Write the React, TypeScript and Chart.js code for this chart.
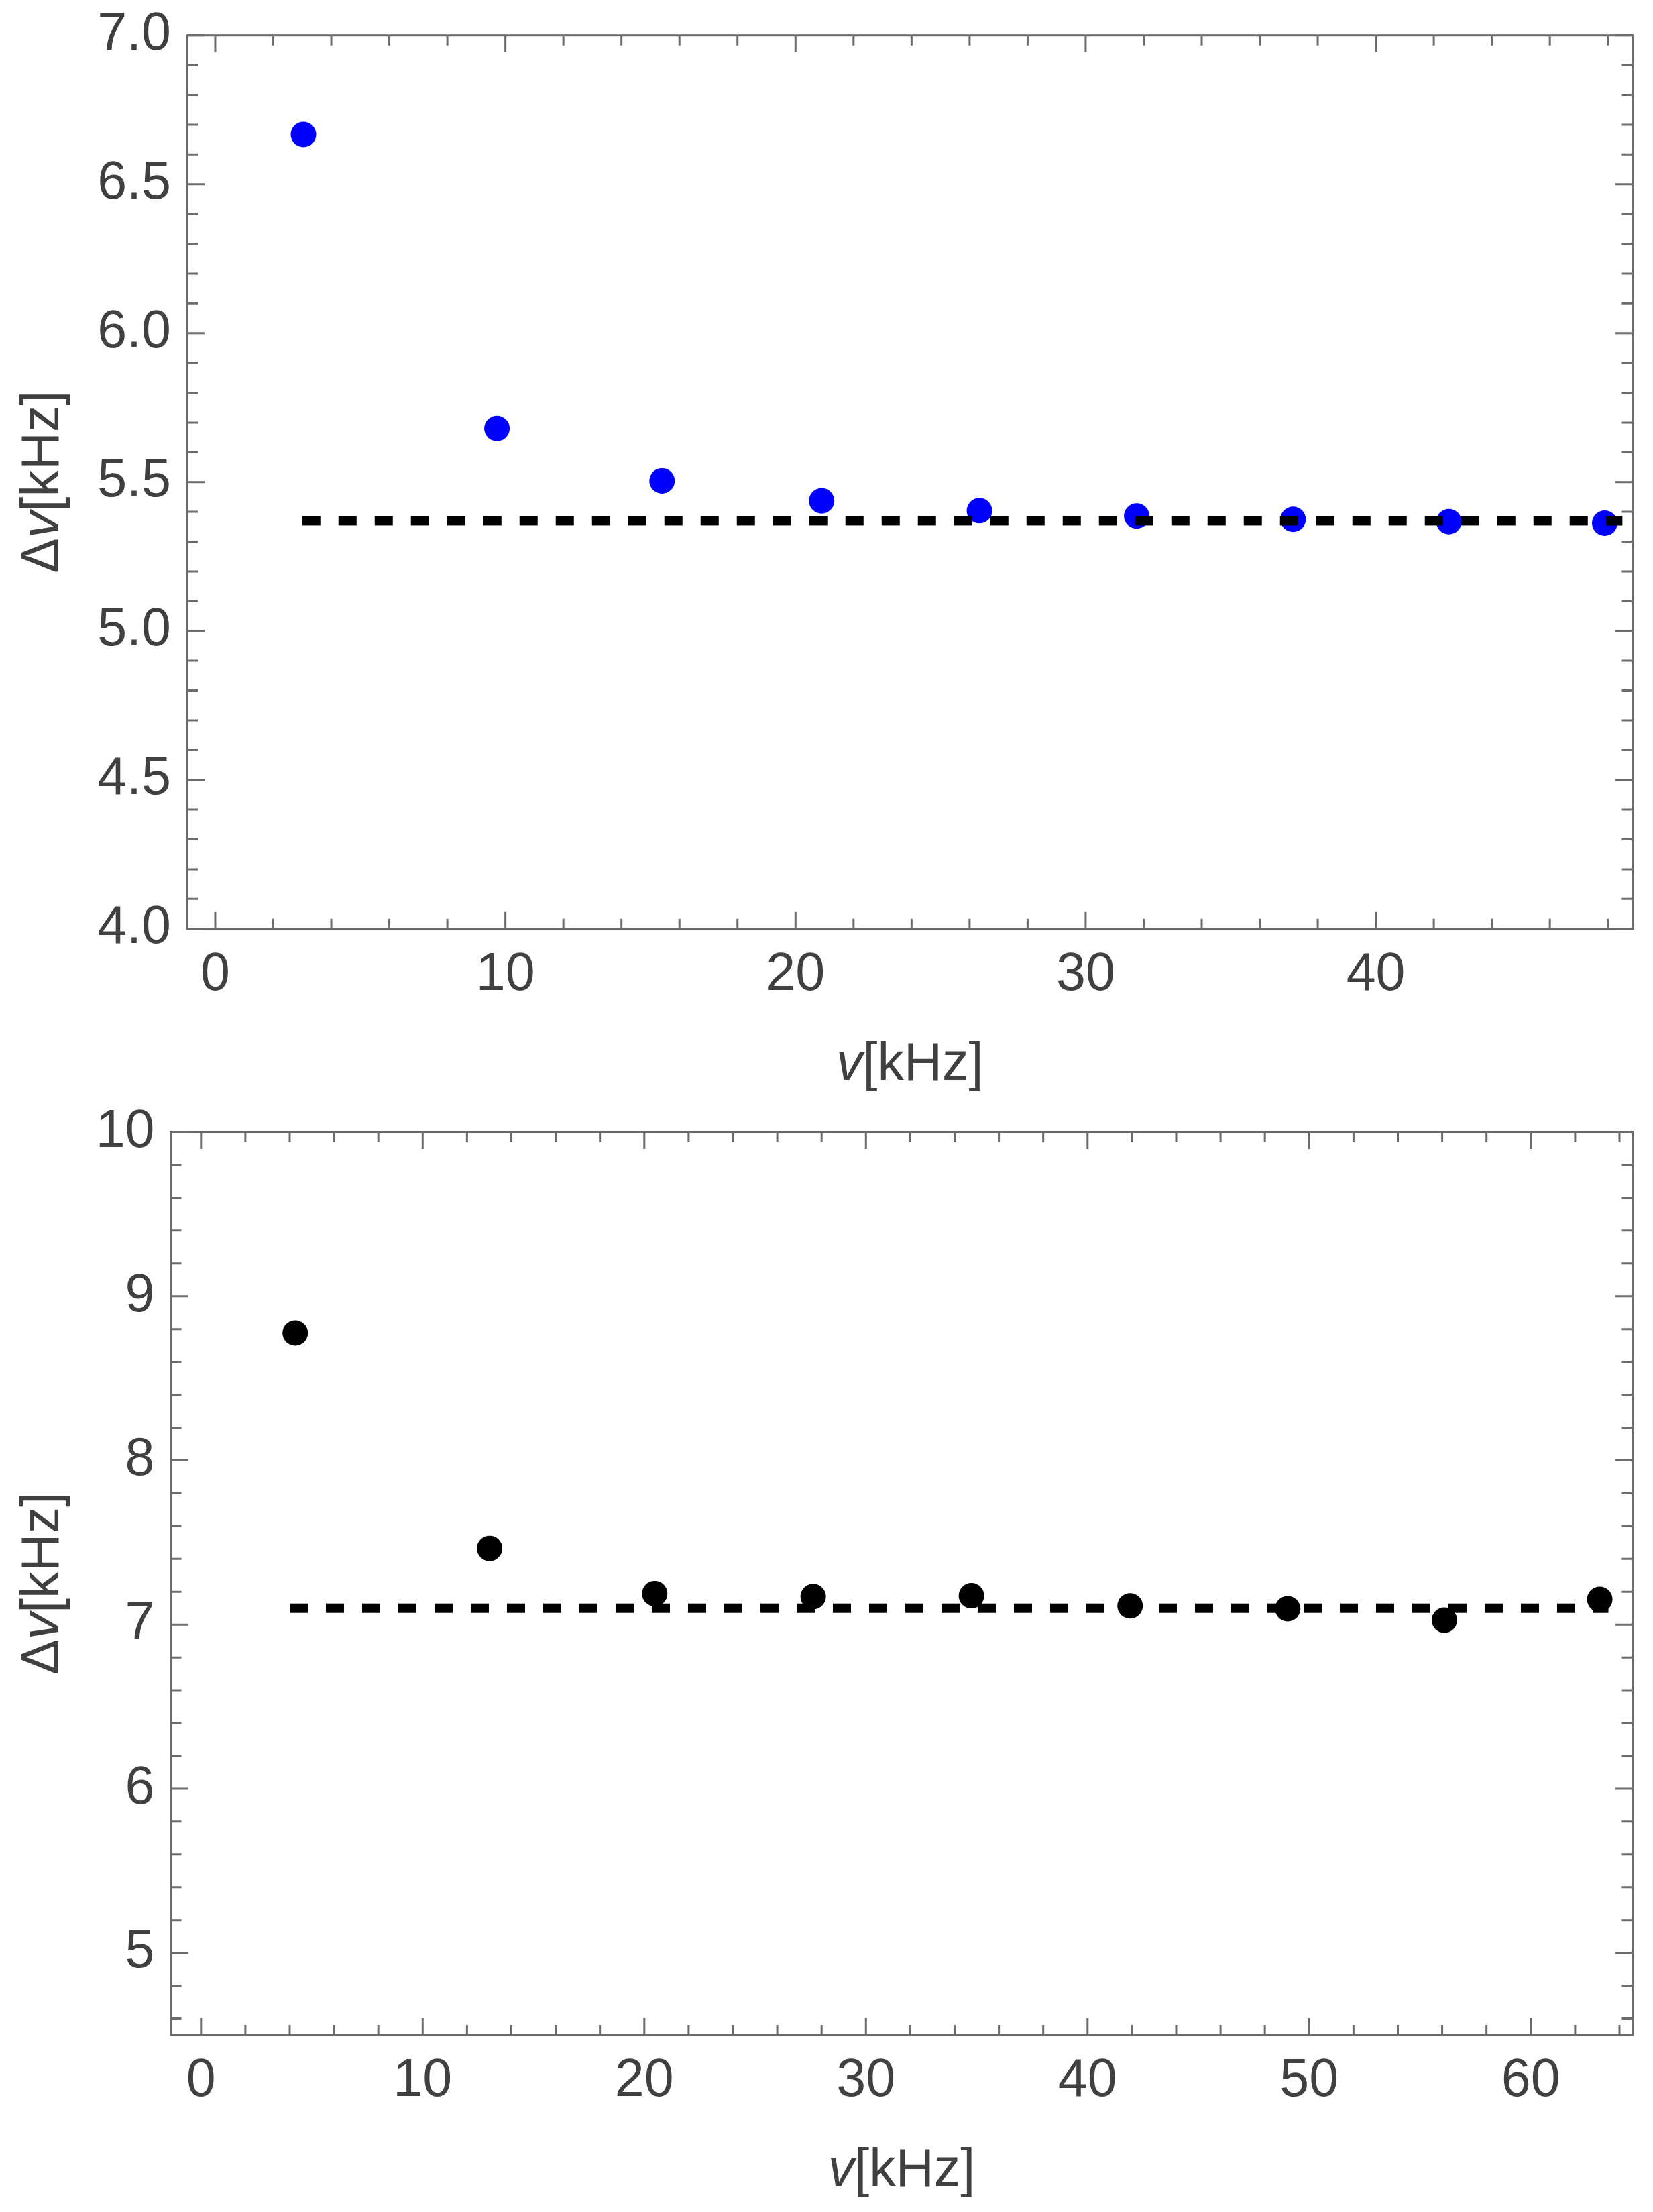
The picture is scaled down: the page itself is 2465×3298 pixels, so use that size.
import React, { useEffect, useRef } from 'react';
import { Chart, registerables } from 'chart.js';

Chart.register(...registerables);

// ---------- Top panel data ----------
const topFreq = [3.04, 9.71, 15.4, 20.9, 26.34, 31.76, 37.15, 42.52, 47.89];
const topWidth = [6.667, 5.68, 5.504, 5.437, 5.404, 5.386, 5.375, 5.367, 5.362];
const topFitX = [3.0, 48.5];
const topFitY = [5.37, 5.37];
const topXTicks = [0, 10, 20, 30, 40];
const topXMinor = [2, 4, 6, 8, 12, 14, 16, 18, 22, 24, 26, 28, 32, 34, 36, 38, 42, 44, 46, 48];
const topYTicks = [4.0, 4.5, 5.0, 5.5, 6.0, 6.5, 7.0];
const topYMinor = [4.1, 4.2, 4.3, 4.4, 4.6, 4.7, 4.8, 4.9, 5.1, 5.2, 5.3, 5.4, 5.6, 5.7, 5.8, 5.9, 6.1, 6.2, 6.3, 6.4, 6.6, 6.7, 6.8, 6.9];

// ---------- Bottom panel data ----------
const bottomFreq = [4.25, 13.02, 20.47, 27.62, 34.76, 41.92, 49.03, 56.1, 63.11];
const bottomWidth = [8.776, 7.464, 7.189, 7.171, 7.176, 7.114, 7.097, 7.027, 7.154];
const bottomFitX = [4.0, 63.5];
const bottomFitY = [7.1, 7.1];
const bottomXTicks = [0, 10, 20, 30, 40, 50, 60];
const bottomXMinor = [2, 4, 6, 8, 12, 14, 16, 18, 22, 24, 26, 28, 32, 34, 36, 38, 42, 44, 46, 48, 52, 54, 56, 58, 62, 64];
const bottomYTicks = [5, 6, 7, 8, 9, 10];
const bottomYMinor = [4.6, 4.8, 5.2, 5.4, 5.6, 5.8, 6.2, 6.4, 6.6, 6.8, 7.2, 7.4, 7.6, 7.8, 8.2, 8.4, 8.6, 8.8, 9.2, 9.4, 9.6, 9.8];

// ---------- Text ----------
const xTitleParts = [
  { text: 'v', italic: true },
  { text: '[kHz]', italic: false },
];
const yTitleParts = [
  { text: 'Δ', italic: false },
  { text: 'v', italic: true },
  { text: '[kHz]', italic: false },
];

const FONT = "'Liberation Sans', Arial, Helvetica, sans-serif";
const TEXT_COLOR = '#404040';
const FRAME_COLOR = '#6b6b6b';
const FONT_SIZE = 79;

type PanelSpec = {
  width: number;
  height: number;
  xMin: number;
  xMax: number;
  yMin: number;
  yMax: number;
  freq: number[];
  values: number[];
  fitX: number[];
  fitY: number[];
  xTicks: number[];
  xMinor: number[];
  yTicks: number[];
  yMinor: number[];
  yDecimals: number;
  pointColor: string;
  padTop: number;
  padRight: number;
  yAxisWidth: number;
  xAxisHeight: number;
};

function drawParts(ctx: CanvasRenderingContext2D, parts: { text: string; italic: boolean }[], cx: number, baseline: number) {
  const fontFor = (it: boolean) => `${it ? 'italic ' : ''}${FONT_SIZE}px ${FONT}`;
  let total = 0;
  const widths = parts.map((p) => {
    ctx.font = fontFor(p.italic);
    const w = ctx.measureText(p.text).width;
    total += w;
    return w;
  });
  let x = cx - total / 2;
  ctx.textBaseline = 'alphabetic';
  ctx.textAlign = 'left';
  ctx.fillStyle = TEXT_COLOR;
  parts.forEach((p, i) => {
    ctx.font = fontFor(p.italic);
    ctx.fillText(p.text, x, baseline);
    x += widths[i];
  });
}

const framePlugin = {
  id: 'mmaFrame',
  afterDraw(chart: any, _args: any, opts: any) {
    const { ctx, chartArea } = chart;
    const { left, right, top, bottom } = chartArea;
    const sx = chart.scales.x;
    const sy = chart.scales.y;
    ctx.save();
    ctx.strokeStyle = FRAME_COLOR;
    ctx.lineWidth = 3;
    ctx.lineCap = 'butt';
    ctx.strokeRect(left, top, right - left, bottom - top);
    ctx.beginPath();
    const xt = (vals: number[], len: number) => {
      vals.forEach((v) => {
        const px = sx.getPixelForValue(v);
        if (px < left || px > right) return;
        ctx.moveTo(px, bottom);
        ctx.lineTo(px, bottom - len);
        ctx.moveTo(px, top);
        ctx.lineTo(px, top + len);
      });
    };
    const yt = (vals: number[], len: number) => {
      vals.forEach((v) => {
        const py = sy.getPixelForValue(v);
        if (py < top - 0.5 || py > bottom + 0.5) return;
        ctx.moveTo(left, py);
        ctx.lineTo(left + len, py);
        ctx.moveTo(right, py);
        ctx.lineTo(right - len, py);
      });
    };
    xt(opts.xTicks, 25);
    xt(opts.xMinor, 15);
    yt(opts.yTicks, 26);
    yt(opts.yMinor, 16);
    ctx.stroke();

    // axis titles
    drawParts(ctx, xTitleParts, (left + right) / 2, bottom + 225);
    ctx.save();
    ctx.translate(87, (top + bottom) / 2);
    ctx.rotate(-Math.PI / 2);
    drawParts(ctx, yTitleParts, 0, 0);
    ctx.restore();
    ctx.restore();
  },
};

function Panel({ spec }: { spec: PanelSpec }) {
  const ref = useRef<HTMLCanvasElement>(null);
  useEffect(() => {
    if (!ref.current) return;
    const chart = new Chart(ref.current, {
      type: 'scatter',
      data: {
        datasets: [
          {
            label: 'fit',
            data: spec.fitX.map((x, i) => ({ x, y: spec.fitY[i] })),
            showLine: true,
            pointRadius: 0,
            borderColor: '#000000',
            borderWidth: 14,
            borderDash: [27, 27],
            borderCapStyle: 'butt',
            fill: false,
            order: 0,
          } as any,
          {
            label: 'data',
            data: spec.freq.map((x, i) => ({ x, y: spec.values[i] })),
            pointRadius: 19,
            pointHoverRadius: 19,
            pointBackgroundColor: spec.pointColor,
            pointBorderWidth: 0,
            backgroundColor: spec.pointColor,
            borderWidth: 0,
            order: 1,
          } as any,
        ],
      },
      options: {
        animation: false,
        responsive: false,
        devicePixelRatio: 1,
        layout: { padding: { top: spec.padTop, right: spec.padRight, bottom: 0, left: 0 } },
        plugins: {
          legend: { display: false },
          tooltip: { enabled: false },
          mmaFrame: { xTicks: spec.xTicks, xMinor: spec.xMinor, yTicks: spec.yTicks, yMinor: spec.yMinor },
        } as any,
        scales: {
          x: {
            type: 'linear',
            min: spec.xMin,
            max: spec.xMax,
            afterBuildTicks: (s: any) => {
              s.ticks = spec.xTicks.map((v) => ({ value: v }));
            },
            afterFit: (s: any) => {
              s.height = spec.xAxisHeight;
            },
            grid: { display: false, drawTicks: false },
            border: { display: false },
            ticks: {
              autoSkip: false,
              maxRotation: 0,
              padding: 22,
              color: TEXT_COLOR,
              font: { family: FONT, size: FONT_SIZE },
              callback: (v: any) => String(v),
            },
          },
          y: {
            type: 'linear',
            min: spec.yMin,
            max: spec.yMax,
            afterBuildTicks: (s: any) => {
              s.ticks = spec.yTicks.map((v) => ({ value: v }));
            },
            afterFit: (s: any) => {
              s.width = spec.yAxisWidth;
              s.paddingTop = 0;
              s.paddingBottom = 0;
            },
            grid: { display: false, drawTicks: false },
            border: { display: false },
            ticks: {
              autoSkip: false,
              padding: 24,
              color: TEXT_COLOR,
              font: { family: FONT, size: FONT_SIZE, lineHeight: 0.2 },
              callback: (v: any) => Number(v).toFixed(spec.yDecimals),
            },
          },
        },
      } as any,
      plugins: [framePlugin],
    });
    return () => chart.destroy();
  }, [spec]);
  return (
    <canvas
      ref={ref}
      width={spec.width}
      height={spec.height}
      style={{ display: 'block', width: spec.width, height: spec.height }}
    />
  );
}

const topSpec: PanelSpec = {
  width: 2465,
  height: 1650,
  xMin: -0.97,
  xMax: 48.85,
  yMin: 4,
  yMax: 7,
  freq: topFreq,
  values: topWidth,
  fitX: topFitX,
  fitY: topFitY,
  xTicks: topXTicks,
  xMinor: topXMinor,
  yTicks: topYTicks,
  yMinor: topYMinor,
  yDecimals: 1,
  pointColor: '#0000ff',
  padTop: 52.7,
  padRight: 30.5,
  yAxisWidth: 279,
  xAxisHeight: 265.3,
};

const bottomSpec: PanelSpec = {
  width: 2465,
  height: 1648,
  xMin: -1.37,
  xMax: 64.59,
  yMin: 4.5,
  yMax: 10,
  freq: bottomFreq,
  values: bottomWidth,
  fitX: bottomFitX,
  fitY: bottomFitY,
  xTicks: bottomXTicks,
  xMinor: bottomXMinor,
  yTicks: bottomYTicks,
  yMinor: bottomYMinor,
  yDecimals: 0,
  pointColor: '#000000',
  padTop: 38,
  padRight: 30.5,
  yAxisWidth: 254.5,
  xAxisHeight: 264,
};

export default function App() {
  return (
    <div style={{ position: 'absolute', left: 0, top: 0, width: 2465, height: 3298, background: '#ffffff' }}>
      <Panel spec={topSpec} />
      <Panel spec={bottomSpec} />
    </div>
  );
}
